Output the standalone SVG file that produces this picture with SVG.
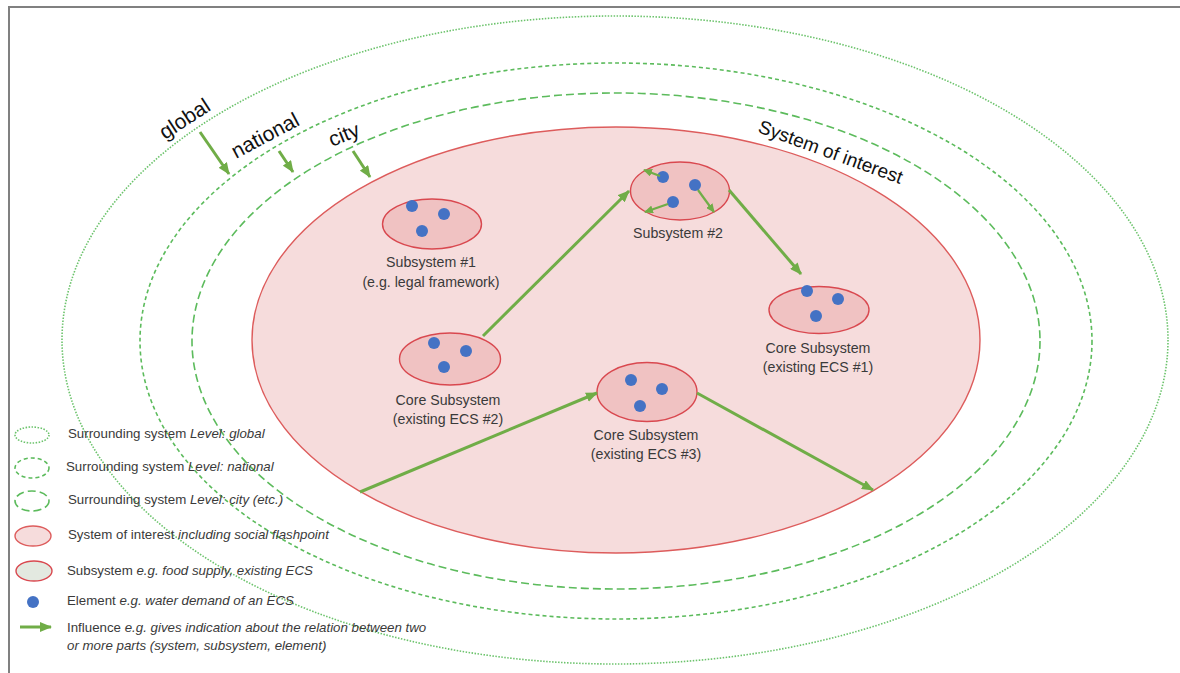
<svg xmlns="http://www.w3.org/2000/svg" width="1180" height="673" viewBox="0 0 1180 673">
<style>
text{font-family:"Liberation Sans",Arial,sans-serif;fill:#3a3a3a}
.lbl{font-size:14.2px;text-anchor:middle}
.lvl{font-size:21px;fill:#111}
.leg{font-size:13.3px}
.it{font-style:italic}
.g1{fill:none;stroke:#6cc36c;stroke-width:1.6;stroke-dasharray:1.5 1.5}
.g2{fill:none;stroke:#5cbb5c;stroke-width:1.6;stroke-dasharray:4 3}
.g3{fill:none;stroke:#5cbb5c;stroke-width:1.6;stroke-dasharray:8 4}
.soi{fill:#f6dcdc;stroke:#dd5c5c;stroke-width:1.4}
.sub{fill:#f0c2c2;stroke:#d9484f;stroke-width:1.4}
.dot{fill:#4472c4}
.arr{fill:none;stroke:#70ad47;stroke-width:3;marker-end:url(#ah)}
.arrs{fill:none;stroke:#70ad47;stroke-width:2.2;marker-end:url(#ahs)}
</style>
<defs>
<marker id="ah" markerWidth="12" markerHeight="10" refX="11" refY="5" orient="auto" markerUnits="userSpaceOnUse"><path d="M0,0 L12,5 L0,10 Z" fill="#70ad47"/></marker>
<marker id="ahs" markerWidth="9" markerHeight="8" refX="8" refY="4" orient="auto" markerUnits="userSpaceOnUse"><path d="M0,0 L9,4 L0,8 Z" fill="#70ad47"/></marker>
</defs>
<rect width="1180" height="673" fill="#fff"/>
<path d="M9,673 V7 H1180" fill="none" stroke="#808080" stroke-width="2"/>

<g id="surrounding-global"><ellipse class="g1" cx="615" cy="340" rx="553" ry="324"/></g>
<g id="surrounding-national"><ellipse class="g2" cx="616" cy="341" rx="476" ry="278"/></g>
<g id="surrounding-city"><ellipse class="g3" cx="616" cy="341" rx="424" ry="248"/></g>
<g id="system-of-interest"><ellipse class="soi" cx="616" cy="340" rx="364" ry="213"/></g>

<g id="level-labels">
<text class="lvl" transform="translate(165,140) rotate(-33)">global</text>
<text class="lvl" transform="translate(236,159) rotate(-28)">national</text>
<text class="lvl" transform="translate(332,147) rotate(-22)">city</text>
<text class="lvl" style="font-size:19px" transform="translate(757,132) rotate(20)">System of interest</text>
</g>

<g id="subsystem1">
<ellipse class="sub" cx="432" cy="224" rx="49.5" ry="25"/>
<circle class="dot" cx="412" cy="206" r="6"/><circle class="dot" cx="444" cy="214" r="6"/><circle class="dot" cx="422" cy="231" r="6"/>
<text class="lbl" x="431" y="267">Subsystem #1</text>
<text class="lbl" x="431" y="287">(e.g. legal framework)</text>
</g>

<g id="subsystem2">
<ellipse class="sub" cx="680" cy="191" rx="49.5" ry="29"/>
<circle class="dot" cx="663" cy="177" r="6"/><circle class="dot" cx="695" cy="185" r="6"/><circle class="dot" cx="673" cy="202" r="6"/>
<text class="lbl" x="678" y="238">Subsystem #2</text>
</g>

<g id="core1">
<ellipse class="sub" cx="819" cy="310" rx="50" ry="23.5"/>
<circle class="dot" cx="807" cy="291" r="6"/><circle class="dot" cx="838" cy="299" r="6"/><circle class="dot" cx="816" cy="316" r="6"/>
<text class="lbl" x="818" y="353">Core Subsystem</text>
<text class="lbl" x="818" y="372">(existing ECS #1)</text>
</g>

<g id="core2">
<ellipse class="sub" cx="450" cy="359" rx="50.5" ry="26"/>
<circle class="dot" cx="434" cy="343" r="6"/><circle class="dot" cx="466" cy="351" r="6"/><circle class="dot" cx="444" cy="367" r="6"/>
<text class="lbl" x="448" y="405">Core Subsystem</text>
<text class="lbl" x="448" y="424">(existing ECS #2)</text>
</g>

<g id="core3">
<ellipse class="sub" cx="647" cy="392" rx="50" ry="29.5"/>
<circle class="dot" cx="631" cy="380" r="6"/><circle class="dot" cx="662" cy="389" r="6"/><circle class="dot" cx="640" cy="406" r="6"/>
<text class="lbl" x="646" y="440">Core Subsystem</text>
<text class="lbl" x="646" y="459">(existing ECS #3)</text>
</g>

<g id="connectors">
<path class="arr" d="M200,132 L229,174"/>
<path class="arr" d="M279,151 L293,172"/>
<path class="arr" d="M353,151 L370,177"/>
<path class="arr" d="M483,336 L629,191"/>
<path class="arr" d="M729,190 L801,274"/>
<path class="arr" d="M360,492 L597,393"/>
<path class="arr" d="M697,393 L873,490"/>
<path class="arrs" d="M660,176 L644,170"/>
<path class="arrs" d="M668,204 L645,212"/>
<path class="arrs" d="M698,190 L714,212"/>
</g>

<g id="legend">
<ellipse class="g1" cx="32" cy="435" rx="17" ry="8"/>
<text class="leg" x="68" y="438">Surrounding system <tspan class="it">Level: global</tspan></text>
<ellipse class="g2" cx="32" cy="468" rx="17" ry="10"/>
<text class="leg" x="66" y="471">Surrounding system <tspan class="it">Level: national</tspan></text>
<ellipse class="g3" cx="32" cy="501" rx="17" ry="10"/>
<text class="leg" x="68" y="504">Surrounding system <tspan class="it">Level: city (etc.)</tspan></text>
<ellipse class="soi" cx="33" cy="536" rx="18" ry="10"/>
<text class="leg" x="68" y="539">System of interest <tspan class="it">including social flashpoint</tspan></text>
<ellipse cx="34" cy="571" rx="18" ry="10" fill="#e3e9e0" stroke="#d9484f" stroke-width="1.4"/>
<text class="leg" x="67" y="575">Subsystem <tspan class="it">e.g. food supply, existing ECS</tspan></text>
<circle class="dot" cx="33" cy="602" r="6"/>
<text class="leg" x="67" y="605">Element <tspan class="it">e.g. water demand of an ECS</tspan></text>
<path class="arr" d="M20,627 L51,627"/>
<text class="leg" x="67" y="632">Influence <tspan class="it">e.g. gives indication about the relation between two</tspan></text>
<text class="leg it" x="67" y="650">or more parts (system, subsystem, element)</text>
</g>
</svg>
